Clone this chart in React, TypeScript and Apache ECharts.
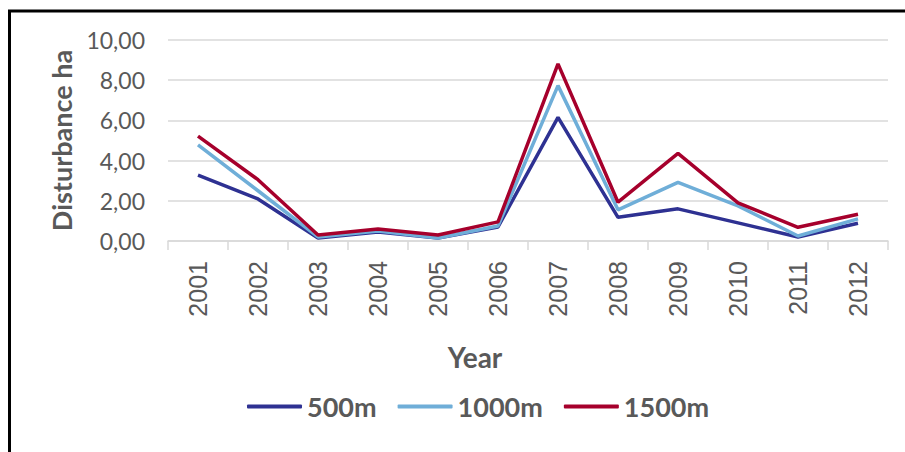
import React, { useEffect, useRef } from "react";
import * as echarts from "echarts";

const years = ["2001", "2002", "2003", "2004", "2005", "2006", "2007", "2008", "2009", "2010", "2011", "2012"];
const s500 = [3.28, 2.09, 0.15, 0.45, 0.15, 0.7, 6.15, 1.18, 1.6, 0.9, 0.2, 0.88];
const s1000 = [4.78, 2.5, 0.2, 0.5, 0.15, 0.75, 7.73, 1.55, 2.92, 1.75, 0.25, 1.1];
const s1500 = [5.22, 3.05, 0.3, 0.6, 0.3, 0.95, 8.81, 1.93, 4.36, 1.9, 0.68, 1.33];
const seriesNames = ["500m", "1000m", "1500m"];
const colors = ["#2E3192", "#6FAED8", "#A6002C"];

export default function App() {
  const ref = useRef<HTMLDivElement>(null);
  useEffect(() => {
    if (!ref.current) return;
    const chart = echarts.init(ref.current, null, { renderer: "svg" });
    const data = [s500, s1000, s1500];
    chart.setOption({
      animation: false,
      backgroundColor: "#ffffff",
      grid: { left: 168, right: 17, top: 40, bottom: 211, containLabel: false },
      legend: {
        top: 393,
        left: 247,
        padding: 0,
        data: seriesNames,
        icon: "roundRect",
        itemWidth: 55,
        itemHeight: 4,
        itemGap: 21,
        textStyle: { fontFamily: "Lato", fontSize: 27, fontWeight: "bold", color: "#595959" },
      },
      graphic: [
        {
          type: "rect",
          shape: { x: 9.5, y: 11, width: 1200, height: 1200 },
          style: { fill: "none", stroke: "#000", lineWidth: 3 },
          silent: true,
        },
      ],
      xAxis: {
        type: "category",
        data: years,
        boundaryGap: true,
        name: "Year",
        nameLocation: "middle",
        nameGap: 102,
        nameTextStyle: {
          fontFamily: "Lato",
          fontSize: 28,
          fontWeight: "bold",
          color: "#595959",
          padding: [0, 106, 0, 0],
        },
        axisLine: { show: true, lineStyle: { color: "#d9d9d9", width: 1.5 } },
        axisTick: { show: true, length: 9, lineStyle: { color: "#d9d9d9", width: 1.5 } },
        axisLabel: {
          rotate: 90,
          margin: 20,
          fontFamily: "Liberation Sans",
          fontSize: 25,
          color: "#595959",
        },
      },
      yAxis: {
        type: "value",
        min: 0,
        max: 10,
        interval: 2,
        name: "Disturbance ha",
        nameLocation: "middle",
        nameGap: 93,
        nameTextStyle: { fontFamily: "Lato", fontSize: 27, fontWeight: "bold", color: "#595959" },
        axisLine: { show: false },
        axisTick: { show: false },
        splitLine: { lineStyle: { color: "#d9d9d9", width: 1.5 } },
        axisLabel: {
          margin: 23,
          fontFamily: "Lato",
          fontSize: 23,
          color: "#595959",
          formatter: (v: number) => v.toFixed(2).replace(".", ","),
        },
      },
      series: seriesNames.map((name, i) => ({
        name,
        type: "line",
        data: data[i],
        symbol: "none",
        lineStyle: { color: colors[i], width: 3.5 },
        itemStyle: { color: colors[i] },
      })),
    });
    return () => chart.dispose();
  }, []);
  return <div ref={ref} style={{ position: "absolute", left: 0, top: 0, width: 905, height: 452 }} />;
}
